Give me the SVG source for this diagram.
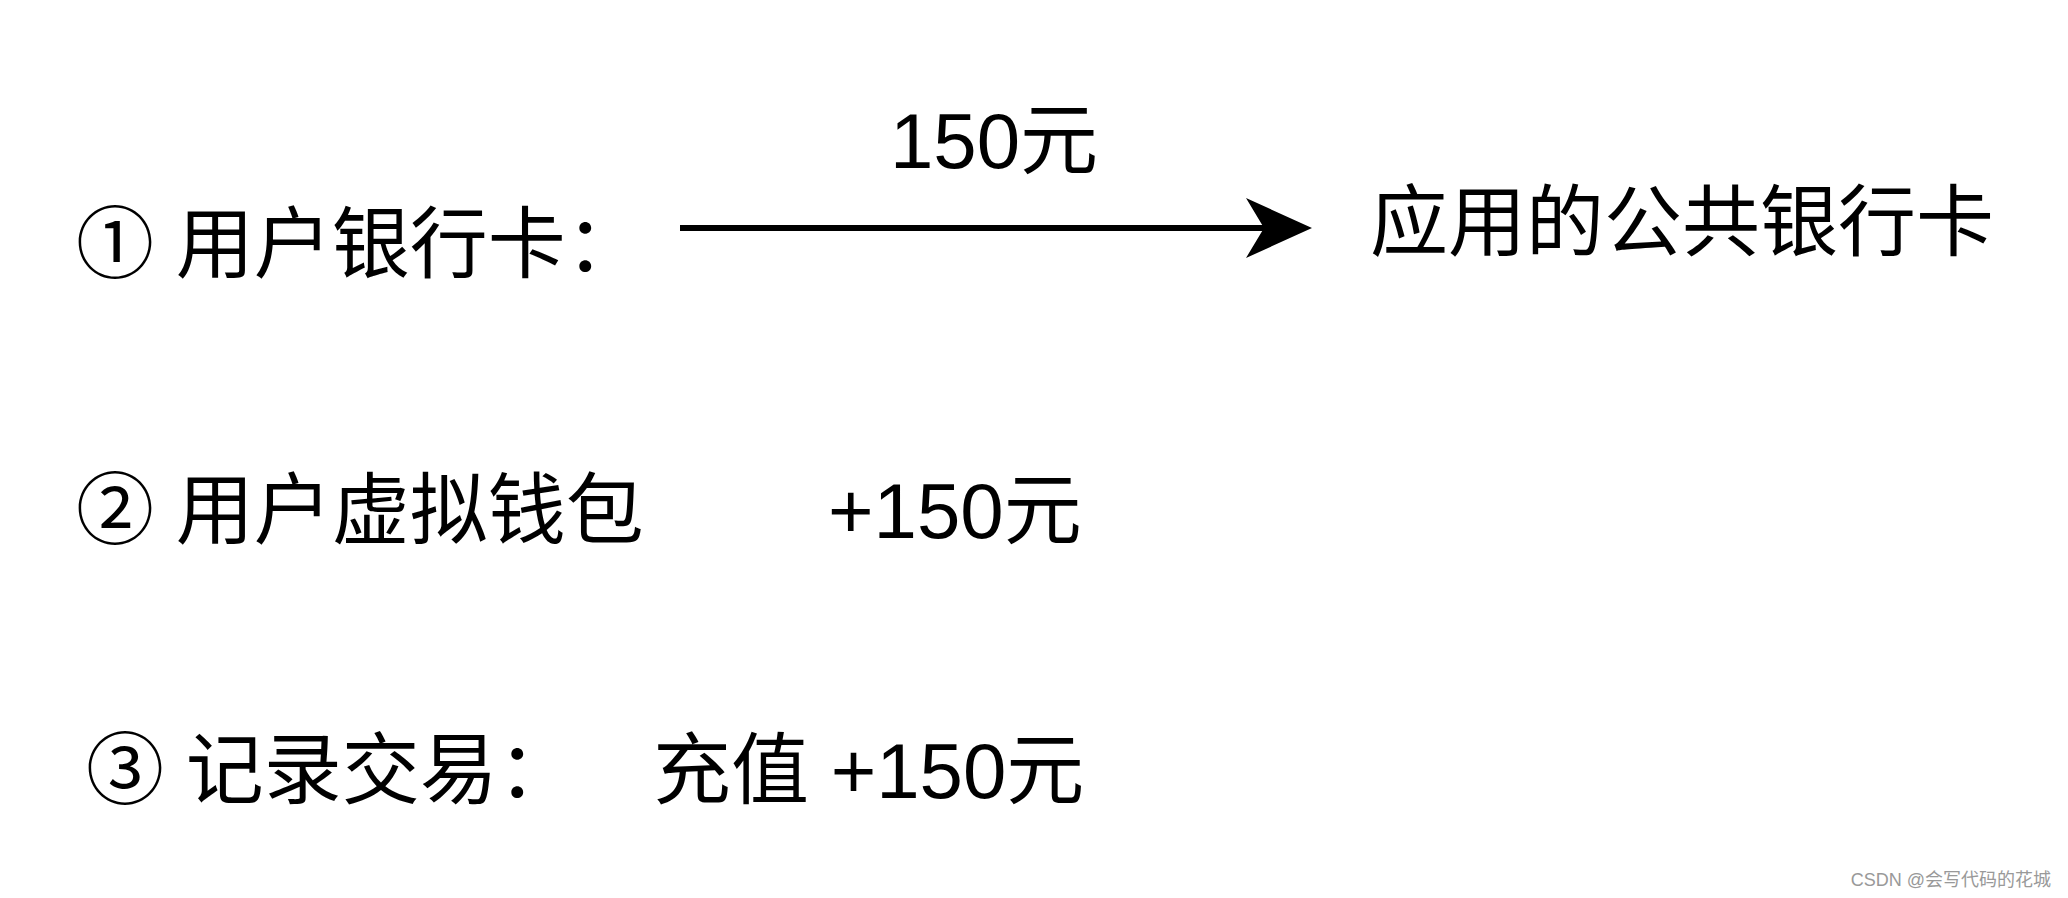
<svg xmlns="http://www.w3.org/2000/svg" width="2068" height="898" viewBox="0 0 2068 898">
<style>
text{font-family:"Liberation Sans","Noto Sans CJK SC",sans-serif;fill:#000}
.t{font-size:78px}
.w{font-size:18px;fill:#999}
</style>
<defs><marker id="a" markerWidth="11" markerHeight="10" refX="3" refY="5" orient="auto" markerUnits="strokeWidth"><path d="M0,0 L11,5 L0,10 L3,5 Z" fill="#000"/></marker></defs>
<rect width="2068" height="898" fill="#fff"/>
<g id="connectors"><line x1="680" y1="228" x2="1264" y2="228" stroke="#000" stroke-width="6" marker-end="url(#a)"/></g>
<g id="label"><text class="t" x="994" y="168" text-anchor="middle">150元</text></g>
<g id="n1"><text class="t" x="76" y="272">① 用户银行卡：</text></g>
<g id="n2"><text class="t" x="1370" y="250">应用的公共银行卡</text></g>
<g id="n3"><text class="t" x="76" y="538">② 用户虚拟钱包</text><text class="t" x="828" y="538">+150元</text></g>
<g id="n4"><text class="t" x="86" y="798">③ 记录交易：</text><text class="t" x="653" y="798">充值 +150元</text></g>
<text class="w" x="2051" y="886" text-anchor="end">CSDN @会写代码的花城</text>
</svg>
